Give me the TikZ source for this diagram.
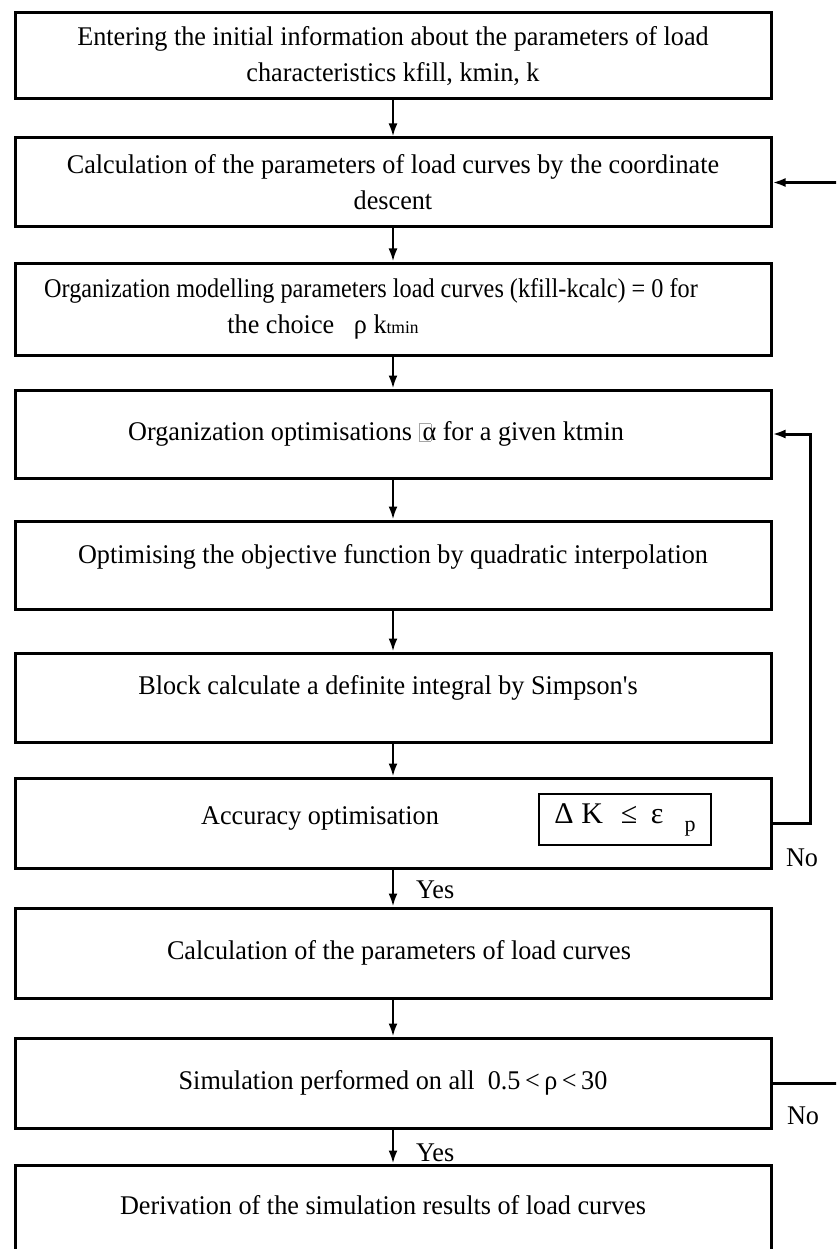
\documentclass[tikz,border=0pt]{standalone}
\usepackage{graphicx}
\usepackage{fontspec}
\setmainfont[FakeStretch=0.97, Ligatures=TeXOff]{Liberation Serif}
\newfontfamily\symfont{Liberation Serif}
\usetikzlibrary{arrows.meta}
\newcommand{\tofu}{{\color{gray!70}\setlength\fboxsep{0pt}\setlength\fboxrule{0.6pt}\fbox{\rule{0pt}{0.62em}\hspace{0.42em}}}\kern-0.32em}
\begin{document}
\begin{tikzpicture}[x=1pt,y=-1pt,
  flowbox/.style={draw, line width=3pt, minimum width=756pt, inner sep=0pt, align=center,
    font=\fontsize{27}{36}\selectfont},
  flowarrow/.style={line width=2.4pt, -{Latex[length=13pt,width=9pt]}},
  flowline/.style={line width=3pt},
  lbl/.style={font=\fontsize{27}{30}\selectfont, inner sep=0pt}]
\useasboundingbox (0,0) rectangle (836,1249);
\clip (0,0) rectangle (836,1249);

\node[flowbox, minimum height=86pt] (b1) at (393,56)
  {Entering the initial information about the parameters of load\\characteristics kfill, kmin, k};
\node[flowbox, minimum height=89pt] (b2) at (393,182.5)
  {Calculation of the parameters of load curves by the coordinate\\descent};
\node[flowbox, minimum height=92pt] (b3) at (393,309)
  {\scalebox{0.925}[1]{Organization modelling parameters load curves (kfill-kcalc) = 0 for}\hspace*{44pt}\\the choice \ \ ρ k{\fontsize{18}{18}\selectfont tmin}\hspace*{140pt}};
\node[flowbox, minimum height=88pt] (b4) at (393,434)
  {Organization optimisations \tofu α for a given ktmin\hspace*{34pt}};
\node[flowbox, minimum height=88pt] (b5) at (393,565)
  {\raisebox{8pt}[\height][\depth]{Optimising the objective function by quadratic interpolation}};
\node[flowbox, minimum height=89pt] (b6) at (393,697.5)
  {\raisebox{10pt}[\height][\depth]{Block calculate a definite integral by Simpson's}\hspace*{10pt}};
\node[flowbox, minimum height=90pt] (b7) at (393,823) {};
\node[lbl] (acc) at (320,818) {Accuracy optimisation};
\node[draw, line width=1.3pt, minimum width=172pt, minimum height=51pt, inner sep=0pt,
  font=\symfont\fontsize{30}{30}\selectfont] (cond) at (625,819.5)
  {Δ\hspace{0.25em}K\hspace{0.6em}≤\hspace{0.45em}ε\hspace{0.7em}\raisebox{-8pt}{\fontsize{22}{22}\selectfont p}};
\node[flowbox, minimum height=90pt] (b8) at (393,953)
  {\hspace*{12pt}Calculation of the parameters of load curves};
\node[flowbox, minimum height=90pt] (b9) at (393,1083)
  {Simulation performed on all \ 0.5\,<\,ρ\,<\,30};
\node[flowbox, minimum height=100pt] (b10) at (393,1215)
  {\raisebox{10pt}[\height][\depth]{Derivation of the simulation results of load curves}\hspace*{20pt}};

\draw[flowarrow] (b1) -- (b2);
\draw[flowarrow] (b2) -- (b3);
\draw[flowarrow] (b3) -- (b4);
\draw[flowarrow] (b4) -- (b5);
\draw[flowarrow] (b5) -- (b6);
\draw[flowarrow] (b6) -- (b7);
\draw[flowarrow] (b7) -- node[lbl, anchor=west, xshift=22pt, yshift=-2pt] (yes1) {Yes} (b8);
\draw[flowarrow] (b8) -- (b9);
\draw[flowarrow] (b9) -- node[lbl, anchor=west, xshift=22pt, yshift=-6pt] (yes2) {Yes} (b10);

\coordinate (fb1) at (810,823);
\draw[flowline, -{Latex[length=13pt,width=9pt]}] (b7.east) -- (fb1) |- (b4.east);
\node[lbl] (no1) at (802,858) {No};

\coordinate (e9) at (845,1083);
\draw[flowline] (b9.east) -- (e9);
\node[lbl] (no2) at (803,1116) {No};

\coordinate (e2) at (845,182.5);
\draw[flowline, -{Latex[length=13pt,width=9pt]}] (e2) -- (b2.east);
\end{tikzpicture}
\end{document}
